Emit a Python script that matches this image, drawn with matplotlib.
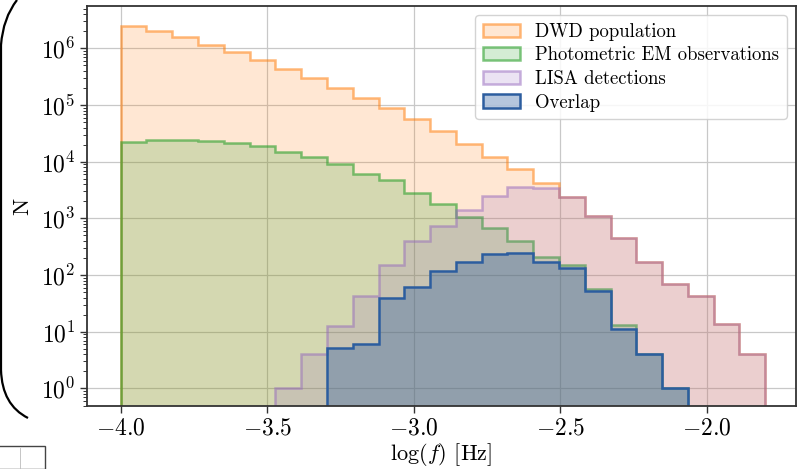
import numpy as np
import matplotlib
matplotlib.use("Agg")
import matplotlib.pyplot as plt
from matplotlib.path import Path
from matplotlib.patches import PathPatch, Rectangle

plt.rcParams['font.family'] = 'cmr10'
plt.rcParams['mathtext.fontset'] = 'cm'
plt.rcParams['axes.formatter.use_mathtext'] = True
plt.rcParams['axes.unicode_minus'] = True

# bin edges in log(f): 25 bins between -4.0 and -1.8
edges = np.linspace(-4.0, -1.8, 26)
centers = 0.5 * (edges[:-1] + edges[1:])

dwd = [2.5e6, 2.0e6, 1.6e6, 1.17e6, 8.7e5, 6.3e5, 4.3e5, 3.0e5, 2.0e5, 1.35e5,
       8.8e4, 5.7e4, 3.5e4, 2.05e4, 1.23e4, 7.4e3, 4.2e3, 2400, 1120, 445,
       170, 69, 43, 13.5, 4]
em_obs = [2.24e4, 2.4e4, 2.4e4, 2.3e4, 2.15e4, 1.9e4, 1.5e4, 1.23e4, 9.1e3, 6.0e3,
          4.7e3, 2.8e3, 1.8e3, 1.07e3, 690, 400, 210, 150, 58, 13,
          4, 1, 0, 0, 0]
lisa = [0, 0, 0, 0, 0, 0, 1, 4, 12.6, 43,
        150, 405, 740, 1380, 2500, 3600, 3400, 2400, 1120, 445,
        170, 69, 43, 13.5, 4]
overlap = [0, 0, 0, 0, 0, 0, 0, 0, 5.1, 6.2,
           39, 62, 120, 167, 235, 247, 167, 132, 53, 11,
           4, 1, 0, 0, 0]

labels = ['DWD population', 'Photometric EM observations', 'LISA detections', 'Overlap']
series = [dwd, em_obs, lisa, overlap]
# (colour, face alpha, edge alpha)
styles = [('#ff7f0e', 0.18, 0.55),
          ('#2ca02c', 0.2, 0.6),
          ('#9467bd', 0.18, 0.5),
          ('#2c5d9f', 0.35, 1.0)]

fig = plt.figure(figsize=(8.03, 4.69), dpi=100)
ax = fig.add_axes([87 / 803, 1 - 406 / 469, (796 - 87) / 803, (406 - 6) / 469])

for vals, lab, (col, fa, ea) in zip(series, labels, styles):
    rgb = matplotlib.colors.to_rgb(col)
    ax.hist(centers, bins=edges, weights=vals, histtype='stepfilled', log=True,
            facecolor=(*rgb, fa), edgecolor=(*rgb, ea), lw=1.8, label=lab)

ax.set_ylim(0.49, 5.6e6)
ax.set_xlim(-4.115, -1.695)
ax.set_xticks([-4.0, -3.5, -3.0, -2.5, -2.0])
ax.set_xlabel(r'$\log(f)$ [Hz]', fontsize=16, labelpad=1)
ax.set_ylabel('N', fontsize=16.5, labelpad=6)
ax.tick_params(axis='both', which='major', labelsize=17, length=5, width=1, color='#333333')
ax.tick_params(axis='y', which='minor', length=3, width=0.7, color='#333333')
ax.grid(True, which='major', color='#c8c8c8', lw=0.9)
ax.set_axisbelow(True)
for s in ax.spines.values():
    s.set_color('#333333')
    s.set_linewidth(1.3)

leg = ax.legend(loc='upper right', fontsize=13.5, framealpha=0.85, edgecolor='#cccccc',
                handlelength=2.0, borderpad=0.4, labelspacing=0.3)

# page leftovers around the cropped figure
pts = [(17, 0), (3, 18), (1, 45), (1, 370), (2, 405), (28, 418)]
verts = [(x / 803, 1 - y / 469) for x, y in pts]
codes = [Path.MOVETO, Path.CURVE3, Path.CURVE3, Path.LINETO, Path.CURVE3, Path.CURVE3]
fig.add_artist(PathPatch(Path(verts, codes), fill=False, lw=1.6, color='black',
                         transform=fig.transFigure))
fig.add_artist(Rectangle((-0.01, 0), 45 / 803 + 0.01, 1 - 446 / 469, fill=False,
                         lw=1.0, edgecolor='#444444', transform=fig.transFigure))
fig.add_artist(plt.Line2D([20 / 803, 20 / 803], [0, 1 - 448 / 469], lw=0.6,
                          color='#bbbbbb', transform=fig.transFigure))

fig.savefig('out.png', dpi=100)
